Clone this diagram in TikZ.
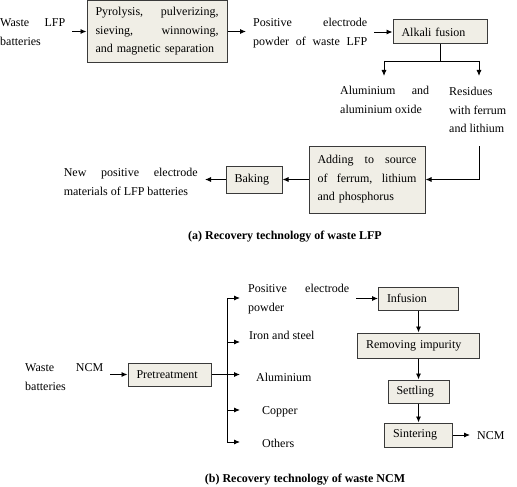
\documentclass[tikz,border=0pt]{standalone}
\usepackage{fontspec}
\setmainfont{Liberation Serif}
\usetikzlibrary{arrows.meta}
\definecolor{boxfill}{HTML}{F0EEE6}
\definecolor{boxline}{HTML}{3A3A3A}
\newcommand{\jline}[2]{\makebox[#1pt][l]{#2}}
\begin{document}
\begin{tikzpicture}[x=1pt, y=-1pt,
  every node/.style={font=\fontsize{12}{18.5}\selectfont},
  box/.style={draw=boxline, fill=boxfill, line width=1pt, inner xsep=8.5pt, inner ysep=0pt, align=left},
  txt/.style={inner xsep=7pt, inner ysep=0pt, align=left},
  arr/.style={-{Latex[length=6pt,width=5pt]}, line width=0.9pt},
  ln/.style={line width=0.9pt}]
\useasboundingbox (0,0) rectangle (517,487);
% (a) waste LFP
\node[txt, anchor=west] (wlfp) at (-7,32) {\jline{65}{Waste\hfill LFP}\\batteries};
\node[box, minimum height=62pt, text width=123pt] (pyro) at (157,31.5) {\jline{123}{Pyrolysis,\hfill pulverizing,}\\\jline{123}{sieving,\hfill winnowing,}\\and magnetic separation};
\node[txt, anchor=west] (pow) at (246,33) {\jline{114}{Positive\hfill electrode}\\\jline{114}{powder\hfill of\hfill waste\hfill LFP}};
\node[box, minimum height=24pt, text width=77pt] (alk) at (440,32) {Alkali fusion};
\coordinate (split) at (440,61);
\coordinate (sl) at (384,61);
\coordinate (sr) at (479,61);
\node[txt, anchor=west] (alu) at (333,100) {\jline{89}{Aluminium\hfill and}\\aluminium oxide};
\node[txt, anchor=west] (res) at (442,110) {Residues\\with ferrum\\and lithium};
\coordinate (rdown) at (479,146);
\node[box, minimum height=67pt, text width=99pt] (add) at (367,179.5) {\jline{99}{Adding\hfill to\hfill source}\\\jline{99}{of\hfill ferrum,\hfill lithium}\\and phosphorus};
\node[box, minimum height=27pt, text width=39pt] (bak) at (254,179.5) {Baking};
\node[txt, anchor=east] (new) at (205,182) {\jline{134}{New\hfill positive\hfill electrode}\\materials of LFP batteries};
\node[font=\fontsize{12}{18.5}\selectfont\bfseries] (capa) at (285,237) {(a) Recovery technology of waste LFP};

\draw[arr] (wlfp.east |- pyro) -- (pyro);
\draw[arr] (pyro.east) -- (pyro.east -| pow.west);
\draw[arr] (pow.east |- alk) -- (alk.west);
\draw[ln] (alk.south) -- (split);
\draw[ln] (sl) -- (sr);
\draw[arr] (sl) -- ++(0,15);
\draw[arr] (sr) -- ++(0,15);
\draw[arr] (rdown) |- (add.east);
\draw[arr] (add.west) -- (bak.east);
\draw[arr] (bak.west) -- (new.east |- bak.west);

% (b) waste NCM
\node[txt, anchor=west] (wncm) at (18,377) {\jline{78}{Waste\hfill NCM}\\batteries};
\node[box, minimum height=23pt, text width=66pt] (pre) at (169.5,374.5) {Pretreatment};
\coordinate (bus) at (227,374.5);
\coordinate (b1) at (227,298);
\coordinate (b2) at (227,342);
\coordinate (b4) at (227,410);
\coordinate (b5) at (227,442);
\node[txt, anchor=west] (ppow) at (241,299) {\jline{101}{Positive\hfill electrode}\\powder};
\node[txt, anchor=west] (iron) at (242,335) {Iron and steel};
\node[txt, anchor=west] (alum) at (249,377) {Aluminium};
\node[txt, anchor=west] (copp) at (255,412) {Copper};
\node[txt, anchor=west] (oth) at (255,443) {Others};
\node[box, minimum height=23pt, text width=63pt] (inf) at (418.5,298.5) {Infusion};
\node[box, minimum height=25pt, text width=105pt] (rem) at (418.5,345.5) {Removing impurity};
\node[box, minimum height=23pt, text width=44pt] (set) at (418.5,391.5) {Settling};
\node[box, minimum height=24pt, text width=51pt] (sin) at (418.5,435) {Sintering};
\node[txt, anchor=west] (ncm) at (470,436) {NCM};
\node[font=\fontsize{12}{18.5}\selectfont\bfseries] (capb) at (305,480) {(b) Recovery technology of waste NCM};

\draw[arr] (wncm.east |- pre) -- (pre.west);
\draw[ln] (pre.east) -- (bus);
\draw[ln] (b1) -- (b5);
\draw[arr] (b1) -- ++(13,0);
\draw[arr] (b2) -- ++(13,0);
\draw[arr] (bus) -- ++(13,0);
\draw[arr] (b4) -- ++(13,0);
\draw[arr] (b5) -- ++(13,0);
\draw[arr] (ppow.east |- inf) -- (inf.west);
\draw[arr] (inf) -- (rem);
\draw[arr] (rem) -- (set);
\draw[arr] (set) -- (sin);
\draw[arr] (sin.east) -- (sin.east -| ncm.west);
\end{tikzpicture}
\end{document}
